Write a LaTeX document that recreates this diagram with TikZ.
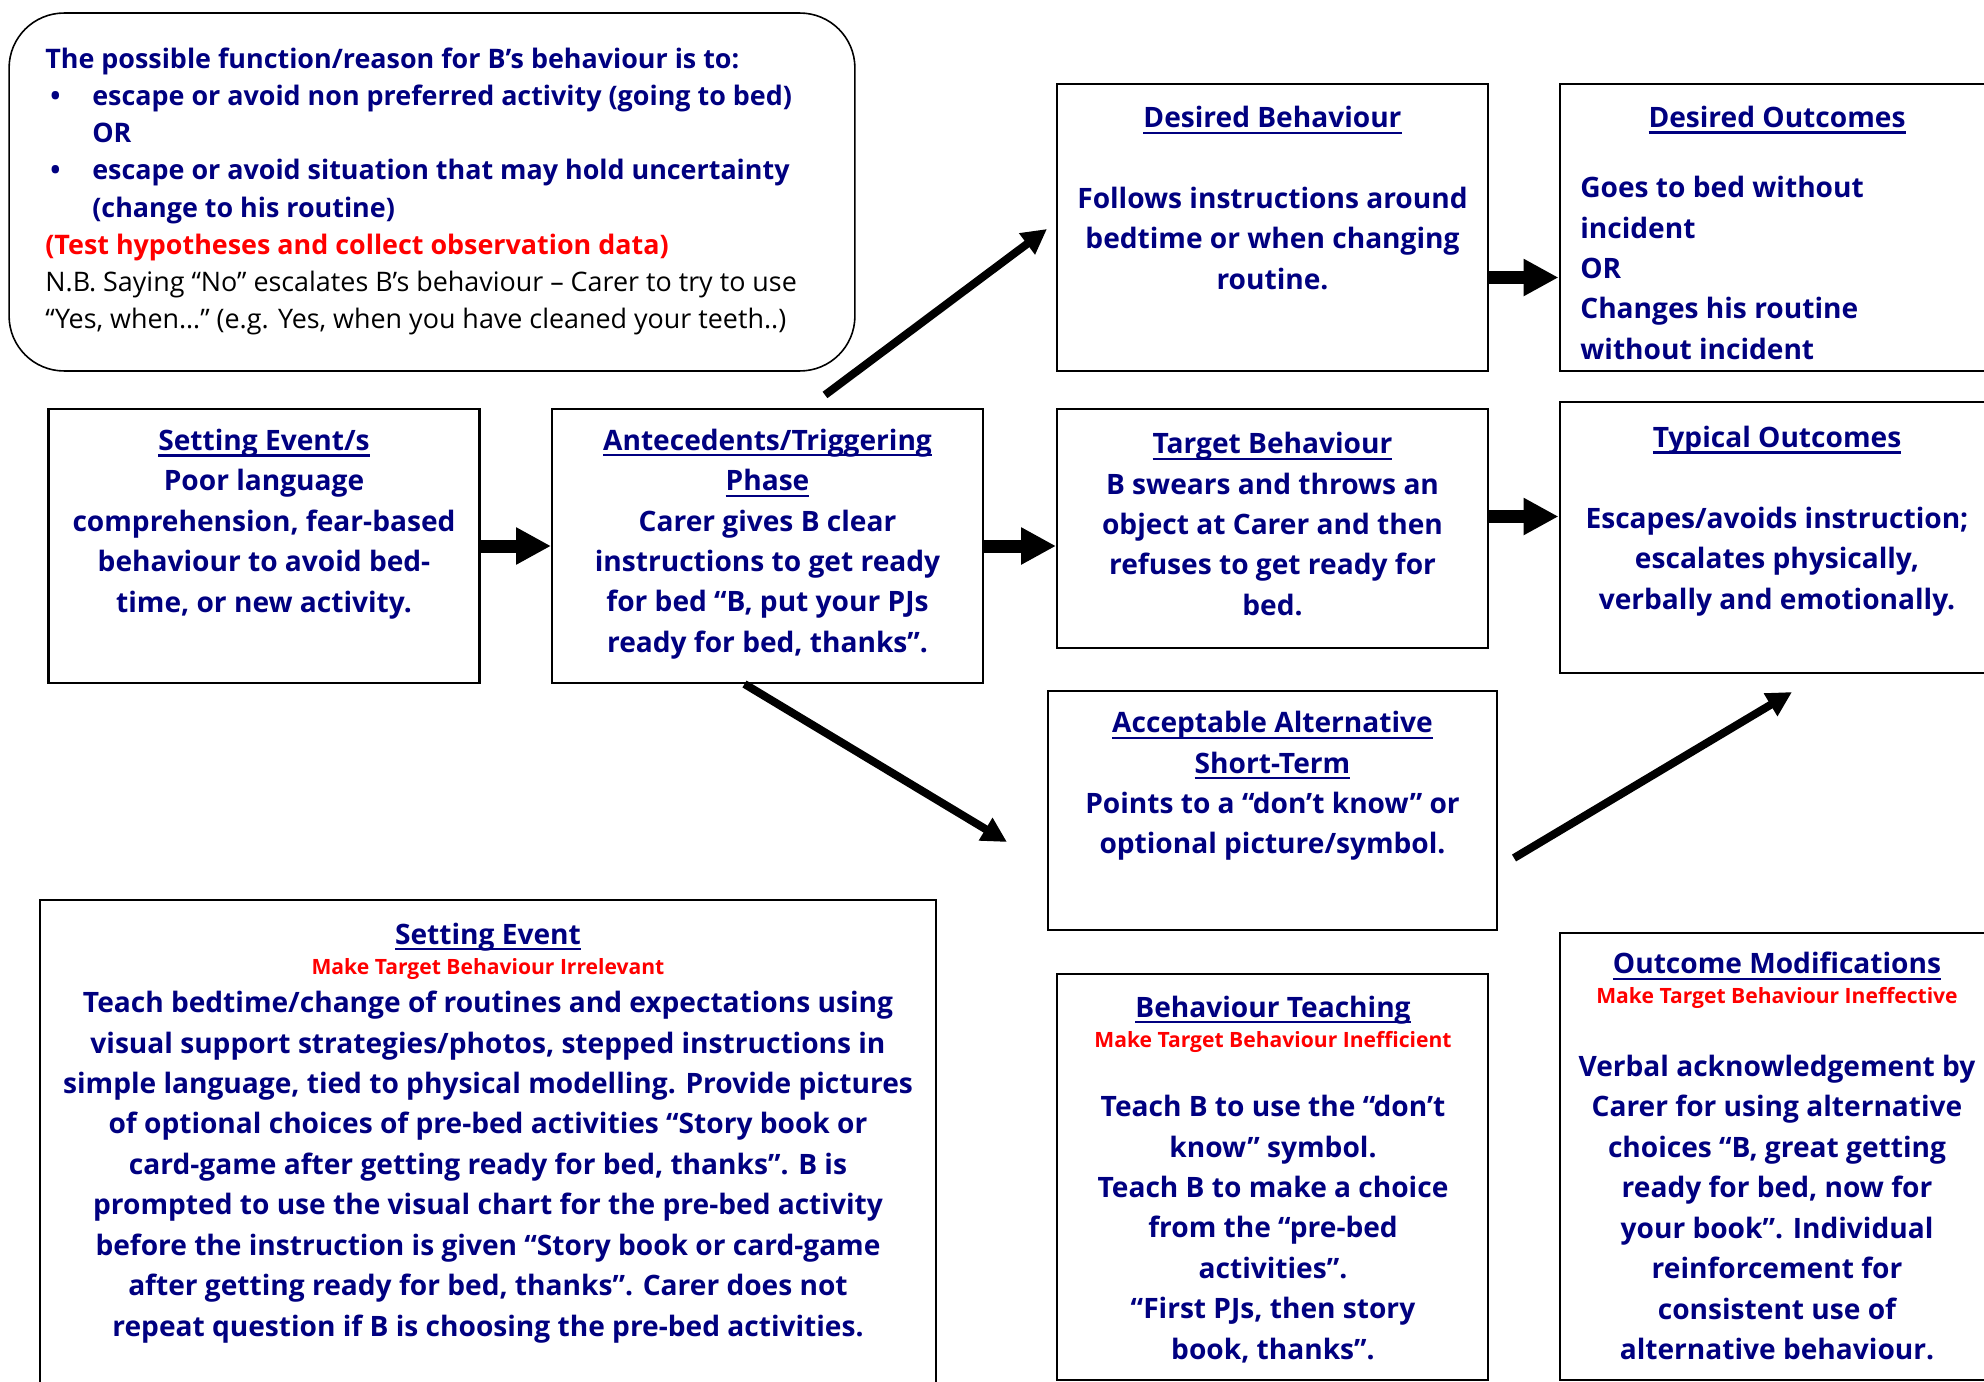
\documentclass[tikz,border=0pt]{standalone}
\usepackage{fontspec}
\setmainfont{Open Sans}
\usetikzlibrary{arrows.meta}
\definecolor{navy}{RGB}{0,0,128}
\newcommand{\ttl}[1]{\setbox0\hbox{#1}\rlap{\rule[-3.5pt]{\wd0}{1.3pt}}\box0}
\tikzset{
box/.style={draw, line width=1.2pt, inner sep=0pt, minimum width=8.62cm}, % the square boxes
txt/.style={text=navy, font=\bfseries\fontsize{16}{23}\selectfont, align=center, inner sep=0pt},
sub/.style={text=red, font=\bfseries\fontsize{12}{14}\selectfont, inner sep=0pt}, % red sub-headings
bigarrow/.style={line width=0.26cm, -{Triangle[length=0.7cm,width=0.7cm]}},
slant/.style={line width=0.16cm, -{Triangle[length=0.5cm,width=0.5cm]}},
}

\begin{document}
\begin{tikzpicture}[x=0.02cm, y=-0.02cm]
  \useasboundingbox (0,0) rectangle (1984,1382);
  \clip (0,0) rectangle (1984,1382);

  % hypothesis note
  \node[box, rounded corners=1.1cm, line width=0.9pt, minimum width=16.92cm, minimum height=7.16cm] (note) at (432,192) {};
  \node[txt, align=left, anchor=west, font=\bfseries\fontsize{15.3}{21.2}\selectfont] (notetxt) at (45,191.5) {The possible function/reason for B’s behaviour is to:\\
    \makebox[0.94cm][l]{\hspace{0.1cm}\textbullet}escape or avoid non preferred activity (going to bed)\\
    \hspace*{0.94cm}OR\\
    \makebox[0.94cm][l]{\hspace{0.1cm}\textbullet}escape or avoid situation that may hold uncertainty\\
    \hspace*{0.94cm}(change to his routine)\\
    \textcolor{red}{(Test hypotheses and collect observation data)}\\
    \textcolor{black}{\mdseries N.B. Saying “No” escalates B’s behaviour – Carer to try to use}\\
    \textcolor{black}{\mdseries “Yes, when…” (e.g. Yes, when you have cleaned your teeth..)}};

  % boxes
  \node[box, minimum height=5.48cm] (setting) at (264,546) {};
  \node[box, minimum height=5.48cm] (antecedent) at (767.5,546) {};
  \node[box, minimum height=5.74cm] (desired) at (1272.5,227.5) {};
  \node[box, minimum height=5.74cm] (desiredout) at (1775,227.5) {};
  \node[box, minimum height=4.78cm] (target) at (1272.5,528.5) {};
  \node[box, minimum height=5.42cm] (typical) at (1775,537.5) {};
  \node[box, minimum width=8.98cm, minimum height=4.78cm] (acceptable) at (1272.5,810.5) {};
  \node[box, minimum width=17.92cm, minimum height=9.9cm] (settingmod) at (488,1147.5) {};
  \node[box, minimum height=8.12cm] (teaching) at (1272.5,1177) {};
  \node[box, minimum height=8.94cm] (outcomemod) at (1775,1156.5) {};

  % texts
  \node[txt] (settingtxt) at (264,524) {\ttl{Setting Event/s}\\Poor language\\comprehension, fear-based\\behaviour to avoid bed-\\time, or new activity.};
  \node[txt] (antecedenttxt) at (767.5,544) {\ttl{Antecedents/Triggering}\\\ttl{Phase}\\Carer gives B clear\\instructions to get ready\\for bed “B, put your PJs\\ready for bed, thanks”.};
  \node[txt] (desiredtxt) at (1272.5,198) {\ttl{Desired Behaviour}\\[23pt]Follows instructions around\\bedtime or when changing\\routine.};
  \node[txt] (desiredouttitle) at (1777,120) {\ttl{Desired Outcomes}};
  \node[txt, align=left, anchor=west] (desiredouttxt) at (1580,268) {Goes to bed without\\incident\\OR\\Changes his routine\\without incident};
  \node[txt] (targettxt) at (1272.5,524) {\ttl{Target Behaviour}\\B swears and throws an\\object at Carer and then\\refuses to get ready for\\bed.};
  \node[txt] (typicaltxt) at (1777,521) {\ttl{Typical Outcomes}\\[23pt]Escapes/avoids instruction;\\escalates physically,\\verbally and emotionally.};
  \node[txt] (acceptabletxt) at (1272.5,786) {\ttl{Acceptable Alternative}\\\ttl{Short-Term}\\Points to a “don’t know” or\\optional picture/symbol.};

  \node[txt] (settingmodtitle) at (488,937) {\ttl{Setting Event}};
  \node[sub] (settingmodsub) at (488,969) {Make Target Behaviour Irrelevant};
  \node[txt] (settingmodtxt) at (488,1167) {Teach bedtime/change of routines and expectations using\\visual support strategies/photos, stepped instructions in\\simple language, tied to physical modelling. Provide pictures\\of optional choices of pre-bed activities “Story book or\\card-game after getting ready for bed, thanks”. B is\\prompted to use the visual chart for the pre-bed activity\\before the instruction is given “Story book or card-game\\after getting ready for bed, thanks”. Carer does not\\repeat question if B is choosing the pre-bed activities.};

  \node[txt] (teachingtitle) at (1273,1010) {\ttl{Behaviour Teaching}};
  \node[sub] (teachingsub) at (1273,1042) {Make Target Behaviour Inefficient};
  \node[txt] (teachingtxt) at (1273,1229) {Teach B to use the “don’t\\know” symbol.\\Teach B to make a choice\\from the “pre-bed\\activities”.\\“First PJs, then story\\book, thanks”.};

  \node[txt] (outcomemodtitle) at (1777,966) {\ttl{Outcome Modifications}};
  \node[sub] (outcomemodsub) at (1777,998) {Make Target Behaviour Ineffective};
  \node[txt] (outcomemodtxt) at (1777,1207.5) {Verbal acknowledgement by\\Carer for using alternative\\choices “B, great getting\\ready for bed, now for\\your book”. Individual\\reinforcement for\\consistent use of\\alternative behaviour.};

  % arrows
  \draw[bigarrow] (setting) -- (antecedent);
  \draw[bigarrow] (antecedent.east) -- (antecedent.east -| target.west);
  \draw[bigarrow] ([shift={(0,-12)}]target.east) -- ([shift={(0,-12)}]target.east -| typical.west);
  \draw[bigarrow] ([shift={(0,50)}]desired.east) -- ([shift={(0,50)}]desired.east -| desiredout.west);
  \draw[slant] ([shift={(-159,-13)}]antecedent.north east) -- ([shift={(-9,1.5)}]desired.west);
  \draw[slant] ([shift={(-23,0)}]antecedent.south) -- ([shift={(-40,31.5)}]acceptable.west);
  \draw[slant] ([shift={(16,47.5)}]acceptable.east) -- ([shift={(17,18)}]typical.south);
\end{tikzpicture}
\end{document}
